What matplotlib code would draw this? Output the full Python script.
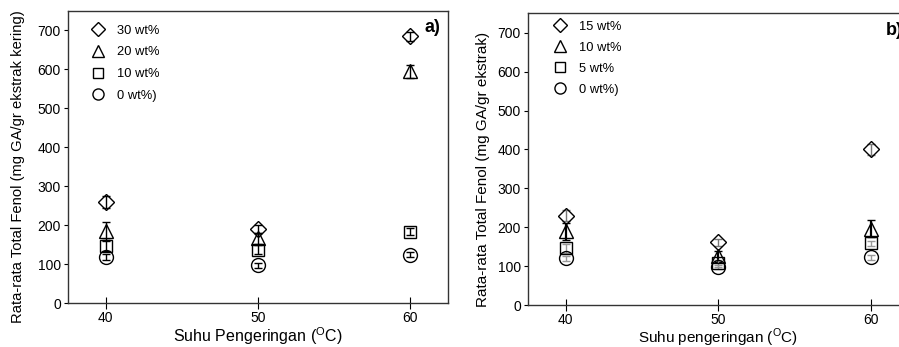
import numpy as np
import matplotlib.pyplot as plt

plt.rcParams['font.family'] = ['Liberation Sans', 'DejaVu Sans']
plt.rcParams['mathtext.fontset'] = 'custom'
plt.rcParams['mathtext.rm'] = 'Liberation Sans'

# suhu pengeringan (C)
suhu = [40, 50, 60]

# panel a) - total fenol (mg GA/gr ekstrak kering)
labels_a = ['30 wt%', '20 wt%', '10 wt%', '0 wt%)']
a_30 = [260, 191, 685]
a_20 = [185, 166, 595]
a_10 = [146, 137, 183]
a_0 = [119, 97, 124]
err_a_30 = [15, 10, 12]
err_a_20 = [22, 14, 16]
err_a_10 = [12, 12, 9]
err_a_0 = [8, 6, 6]

# panel b) - total fenol (mg GA/gr ekstrak)
labels_b = ['15 wt%', '10 wt%', '5 wt%', '0 wt%)']
b_15 = [230, 161, 400]
b_10 = [190, 125, 196]
b_5 = [146, 107, 159]
b_0 = [120, 98, 123]
err_b_15 = [15, 8, 14]
err_b_10 = [22, 14, 22]
err_b_5 = [12, 8, 6]
err_b_0 = [6, 6, 6]

markers = ['D', '^', 's', 'o']
msizes = [8.5, 10.5, 8.5, 10]

fig = plt.figure(figsize=(8.99, 3.47), dpi=100)
ax1 = fig.add_axes([0.0753, 0.1268, 0.423, 0.8415])
ax2 = fig.add_axes([0.587, 0.121, 0.4241, 0.8406])


def panel(ax, series, errs, labels, ecolors, ylabel, xlabel, tag, leg_anchor, lspace,
          ylab_size, ylab_x, xlab_y, xlab_size):
    for y, e, lab, m, ms, ec in zip(series, errs, labels, markers, msizes, ecolors):
        lw = 1.6 if ec == 'k2' else 1.0
        col = 'black' if ec == 'k2' else ec
        ax.errorbar(suhu, y, yerr=e, fmt='none', ecolor=col, elinewidth=lw, capsize=3, capthick=1, zorder=2)
        ax.plot(suhu, y, linestyle='none', marker=m, markersize=ms, markerfacecolor='none',
                markeredgecolor='black', markeredgewidth=1.0, label=lab, zorder=3)
    ax.set_xlim(37.5, 62.5)
    ax.set_ylim(0, 750)
    ax.set_xticks(suhu)
    ax.set_yticks(range(0, 701, 100))
    ax.tick_params(axis='x', direction='inout', length=8, width=0.8, labelsize=10, pad=2)
    ax.tick_params(axis='y', direction='out', length=3, width=0.8, labelsize=10, pad=2)
    for s in ax.spines.values():
        s.set_linewidth(1.0)
        s.set_color('#333333')
    ax.set_ylabel(ylabel, fontsize=ylab_size)
    ax.yaxis.set_label_coords(ylab_x, 0.466)
    ax.yaxis.label.set_va('center')
    ax.set_xlabel(xlabel, fontsize=xlab_size)
    ax.xaxis.set_label_coords(0.5, xlab_y)
    ax.xaxis.label.set_va('center')
    ax.text(0.9395, 0.942, tag, transform=ax.transAxes, fontsize=13, fontweight='bold',
            va='center', ha='left', clip_on=False)
    ax.legend(loc='upper left', bbox_to_anchor=leg_anchor, frameon=False, fontsize=9.3,
              labelspacing=lspace, handletextpad=0.45, markerscale=0.8, numpoints=1)


panel(ax1, [a_30, a_20, a_10, a_0], [err_a_30, err_a_20, err_a_10, err_a_0], labels_a,
      ['black', 'black', 'black', 'black'],
      'Rata-rata Total Fenol (mg GA/gr ekstrak kering)',
      r'Suhu Pengeringan ($^{\mathrm{O}}$C)', 'a)', (0.015, 0.993), 0.75, 10.6, -0.131, -0.113, 11.5)
panel(ax2, [b_15, b_10, b_5, b_0], [err_b_15, err_b_10, err_b_5, err_b_0], labels_b,
      ['#777777', 'k2', '#999999', '#999999'],
      'Rata-rata Total Fenol (mg GA/gr ekstrak)',
      r'Suhu pengeringan ($^{\mathrm{O}}$C)', 'b)', (0.02, 1.015), 0.7, 11, -0.117, -0.111, 11)

fig.savefig('out.png', dpi=100)
